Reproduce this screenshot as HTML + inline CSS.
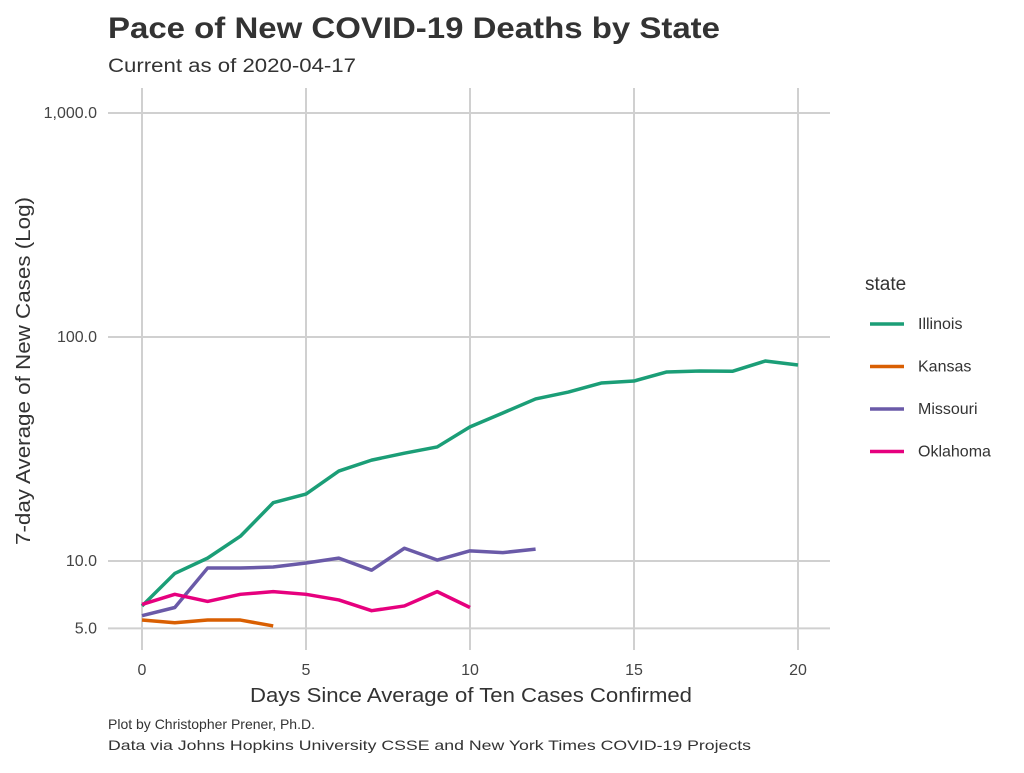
<!DOCTYPE html>
<html><head><meta charset="utf-8"><style>
body{margin:0;background:#fff;font-family:"Liberation Sans",sans-serif;}
</style></head><body>
<svg width="1024" height="768" xmlns="http://www.w3.org/2000/svg" font-family="Liberation Sans, sans-serif">
<text x="108" y="38" font-size="30" font-weight="bold" fill="#333" textLength="612" lengthAdjust="spacingAndGlyphs">Pace of New COVID-19 Deaths by State</text>
<text x="108" y="72" font-size="19" fill="#333" textLength="248" lengthAdjust="spacingAndGlyphs">Current as of 2020-04-17</text>
<g id="grid"></g>
<g id="series"></g>
<text x="250" y="702" font-size="20" fill="#333" textLength="442" lengthAdjust="spacingAndGlyphs">Days Since Average of Ten Cases Confirmed</text>
<text transform="translate(30,545) rotate(-90)" font-size="20" fill="#333" textLength="348" lengthAdjust="spacingAndGlyphs">7-day Average of New Cases (Log)</text>
<text x="865" y="290" font-size="19" fill="#333">state</text>
<g id="legend"></g>
<text x="108" y="729" font-size="14" fill="#333">Plot by Christopher Prener, Ph.D.</text>
<text x="108" y="750" font-size="14" fill="#333" textLength="643" lengthAdjust="spacingAndGlyphs">Data via Johns Hopkins University CSSE and New York Times COVID-19 Projects</text>
</svg>
<script>
const states=["Illinois","Kansas","Missouri","Oklahoma"];
const colors=["#1b9e77","#d95f02","#6a5aa8","#e6007e"];
const illinois=[6.3,8.8,10.3,12.9,18.2,19.9,25.2,28.2,30.3,32.3,39.7,45.8,52.9,56.8,62.3,63.6,69.8,70.5,70.3,78.1,75.0];
const kansas=[5.45,5.3,5.45,5.45,5.13];
const missouri=[5.7,6.2,9.3,9.3,9.4,9.8,10.3,9.1,11.4,10.1,11.1,10.9,11.3];
const oklahoma=[6.4,7.1,6.6,7.1,7.3,7.1,6.7,6.0,6.3,7.3,6.2];
const xTicks=[0,5,10,15,20];
const yTicks=[5,10,100,1000];
const yLabels=["5.0","10.0","100.0","1,000.0"];
const allSeries=[illinois,kansas,missouri,oklahoma];
const NS="http://www.w3.org/2000/svg";
const xs=d=>142+d*32.8;
const ys=v=>561-(Math.log10(v)-1)*224;
const grid=document.getElementById('grid');
function mk(tag,attrs,parent){const e=document.createElementNS(NS,tag);for(const k in attrs)e.setAttribute(k,attrs[k]);parent.appendChild(e);return e;}
xTicks.forEach(t=>{
 const l=mk('line',{x1:xs(t),x2:xs(t),y1:88,y2:650,stroke:'#d0d0d0','stroke-width':2},grid);
 
 
 const tx=mk('text',{x:xs(t),y:675,'font-size':16,fill:'#444','text-anchor':'middle'},grid);
 tx.textContent=t;
 
 
});
yTicks.forEach((t,i)=>{
 const l=mk('line',{x1:108,x2:830,y1:ys(t),y2:ys(t),stroke:'#d0d0d0','stroke-width':2},grid);
 
 
 const tx=mk('text',{x:97,y:ys(t)+5,'font-size':16,fill:'#444','text-anchor':'end'},grid);
 tx.textContent=yLabels[i];
 
 
});
const sg=document.getElementById('series');
allSeries.forEach((s,i)=>{
 const p=mk('polyline',{points:s.map((v,d)=>xs(d)+','+ys(v)).join(' '),fill:'none',stroke:colors[i],'stroke-width':3.5,'stroke-linejoin':'round'},sg);
 
 
});
const lg=document.getElementById('legend');
states.forEach((s,i)=>{
 const y=324+i*42.5;
 const l=mk('line',{x1:870,x2:904,y1:y,y2:y,stroke:colors[i],'stroke-width':3.5},lg);
 
 
 const t=mk('text',{x:918,y:y+5,'font-size':16,fill:'#333'},lg);
 t.textContent=s;
 
 
});
</script>
</body></html>
